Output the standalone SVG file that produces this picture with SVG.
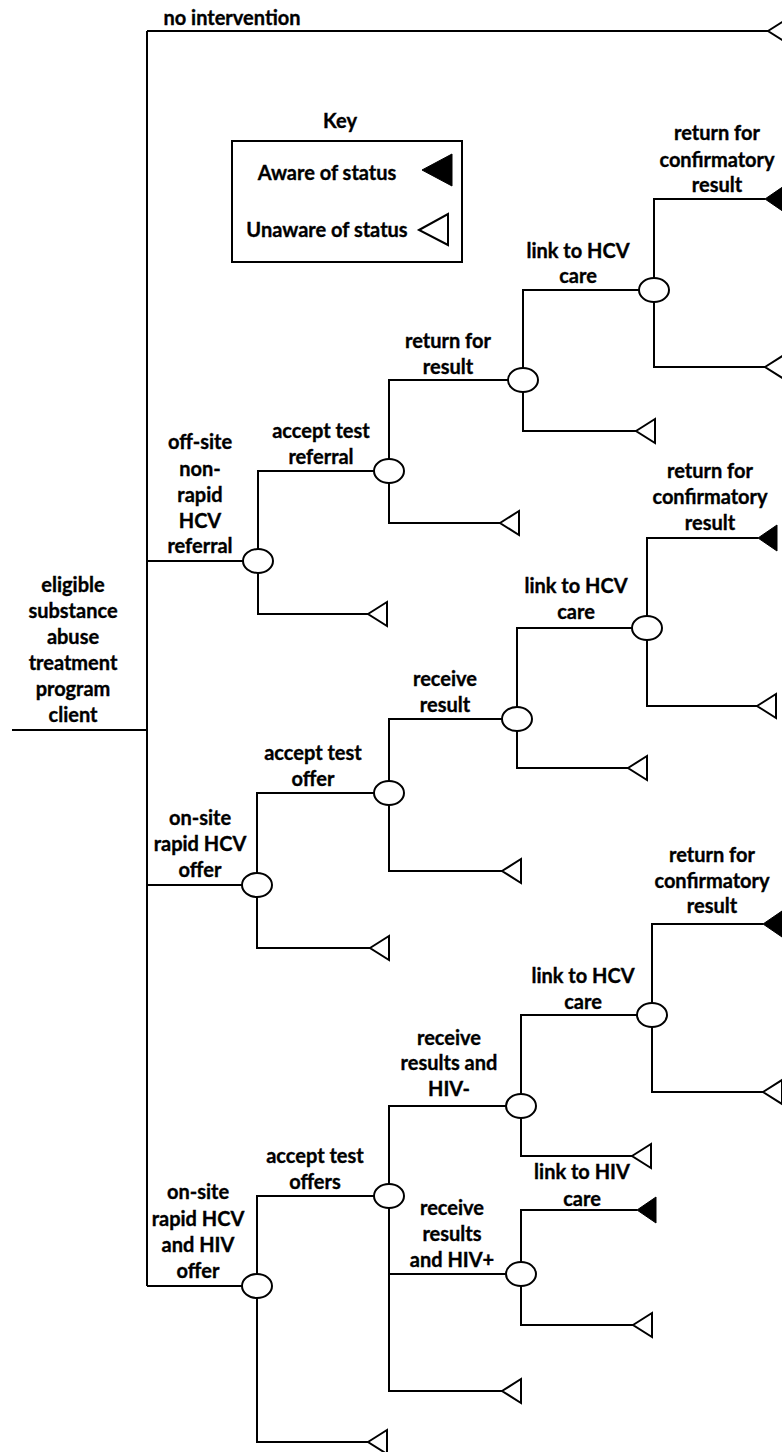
<svg xmlns="http://www.w3.org/2000/svg" width="782" height="1452" viewBox="0 0 782 1452">
<style>
text{font-family:Lato,"Liberation Sans",sans-serif;font-weight:bold;font-size:20px;fill:#000;stroke:#000;stroke-width:0.35;text-anchor:middle}
.ln{fill:none;stroke:#000;stroke-width:2}
.ch{fill:#fff;stroke:#000;stroke-width:2}
.un{fill:#fff;stroke:#000;stroke-width:2;stroke-linejoin:miter}
.aw{fill:#000;stroke:#000;stroke-width:1}
</style>
<defs>
<polygon id="tu" class="un" points="0,0 19,-12 19,12"/>
<polygon id="ta" class="aw" points="0,0 19,-13 19,13"/>
</defs>
<rect width="782" height="1452" fill="#fff"/>
<g id="connectors">
<path class="ln" d="M12 730H147M147 31V1286M147 31H768"/>
<path class="ln" d="M147 561H243M258 549V471H374M258 573V614H368"/>
<path class="ln" d="M389 459V380H508M389 483V523H500"/>
<path class="ln" d="M523 368V290H639M523 392V431H636"/>
<path class="ln" d="M654 278V199H765M654 302V367H765"/>
<path class="ln" d="M147 885H242M257 873V793H374M257 897V948H370"/>
<path class="ln" d="M389 781V719H502M389 805V871H502"/>
<path class="ln" d="M517 707V628H632M517 731V768H628"/>
<path class="ln" d="M647 616V538H758M647 640V706H757"/>
<path class="ln" d="M147 1286H242M257 1274V1196H374M257 1298V1442H368"/>
<path class="ln" d="M389 1184V1106H506M389 1208V1391H502M389 1274H506"/>
<path class="ln" d="M521 1094V1015H637M521 1118V1156H632"/>
<path class="ln" d="M652 1003V924H763M652 1027V1092H763"/>
<path class="ln" d="M521 1262V1210H637M521 1286V1325H633"/>
</g>
<g id="root"><text x="73" y="592">eligible</text><text x="73" y="618">substance</text><text x="73" y="644">abuse</text><text x="73" y="670">treatment</text><text x="73" y="696">program</text><text x="73" y="722">client</text></g>
<g id="no-intervention"><text x="232" y="25">no intervention</text><use href="#tu" x="768" y="31"/></g>
<g id="key">
<text x="340" y="128">Key</text>
<rect x="232" y="141" width="230" height="121" fill="none" stroke="#000" stroke-width="2"/>
<text x="327" y="180">Aware of status</text>
<polygon class="aw" points="422,170 452,154 452,186"/>
<text x="327" y="237">Unaware of status</text>
<polygon class="un" points="419,230 448,214 448,245"/>
</g>
<g id="offsite">
<text x="200" y="449">off-site</text><text x="200" y="476">non-</text><text x="200" y="502">rapid</text><text x="200" y="528">HCV</text><text x="200" y="553">referral</text>
<ellipse class="ch" cx="258" cy="561" rx="15" ry="12"/>
<use href="#tu" x="368" y="614"/>
</g>
<g id="offsite-accept">
<text x="321" y="438">accept test</text><text x="321" y="464">referral</text>
<ellipse class="ch" cx="389" cy="471" rx="15" ry="12"/>
<use href="#tu" x="500" y="523"/>
</g>
<g id="offsite-return">
<text x="448" y="348">return for</text><text x="448" y="374">result</text>
<ellipse class="ch" cx="523" cy="380" rx="15" ry="12"/>
<use href="#tu" x="636" y="431"/>
</g>
<g id="offsite-link">
<text x="578" y="258">link to HCV</text><text x="578" y="283">care</text>
<ellipse class="ch" cx="654" cy="290" rx="15" ry="12"/>
<text x="717" y="140">return for</text><text x="717" y="167">confirmatory</text><text x="717" y="192">result</text>
<use href="#ta" x="765" y="199"/>
<use href="#tu" x="765" y="367"/>
</g>
<g id="onsite-hcv">
<text x="200" y="825">on-site</text><text x="200" y="851">rapid HCV</text><text x="200" y="877">offer</text>
<ellipse class="ch" cx="257" cy="885" rx="15" ry="12"/>
<use href="#tu" x="370" y="948"/>
</g>
<g id="onsite-hcv-accept">
<text x="313" y="760">accept test</text><text x="313" y="786">offer</text>
<ellipse class="ch" cx="389" cy="793" rx="15" ry="12"/>
<use href="#tu" x="502" y="871"/>
</g>
<g id="onsite-hcv-receive">
<text x="445" y="686">receive</text><text x="445" y="712">result</text>
<ellipse class="ch" cx="517" cy="719" rx="15" ry="12"/>
<use href="#tu" x="628" y="768"/>
</g>
<g id="onsite-hcv-link">
<text x="576" y="593">link to HCV</text><text x="576" y="619">care</text>
<ellipse class="ch" cx="647" cy="628" rx="15" ry="12"/>
<text x="710" y="478">return for</text><text x="710" y="504">confirmatory</text><text x="710" y="530">result</text>
<use href="#ta" x="758" y="538"/>
<use href="#tu" x="757" y="706"/>
</g>
<g id="onsite-hcv-hiv">
<text x="198" y="1199">on-site</text><text x="198" y="1226">rapid HCV</text><text x="198" y="1252">and HIV</text><text x="198" y="1278">offer</text>
<ellipse class="ch" cx="257" cy="1286" rx="15" ry="12"/>
<use href="#tu" x="368" y="1442"/>
</g>
<g id="onsite-hcv-hiv-accept">
<text x="315" y="1163">accept test</text><text x="315" y="1189">offers</text>
<ellipse class="ch" cx="389" cy="1196" rx="15" ry="12"/>
<use href="#tu" x="502" y="1391"/>
</g>
<g id="hiv-neg">
<text x="449" y="1045">receive</text><text x="449" y="1070">results and</text><text x="449" y="1096">HIV-</text>
<ellipse class="ch" cx="521" cy="1106" rx="15" ry="12"/>
<use href="#tu" x="632" y="1156"/>
</g>
<g id="hiv-neg-link">
<text x="583" y="983">link to HCV</text><text x="583" y="1009">care</text>
<ellipse class="ch" cx="652" cy="1015" rx="15" ry="12"/>
<text x="712" y="862">return for</text><text x="712" y="888">confirmatory</text><text x="712" y="913">result</text>
<use href="#ta" x="763" y="924"/>
<use href="#tu" x="763" y="1092"/>
</g>
<g id="hiv-pos">
<text x="452" y="1215">receive</text><text x="452" y="1241">results</text><text x="452" y="1267">and HIV+</text>
<ellipse class="ch" cx="521" cy="1274" rx="15" ry="12"/>
<text x="582" y="1179">link to HIV</text><text x="582" y="1206">care</text>
<use href="#ta" x="637" y="1210"/>
<use href="#tu" x="633" y="1325"/>
</g>
</svg>
